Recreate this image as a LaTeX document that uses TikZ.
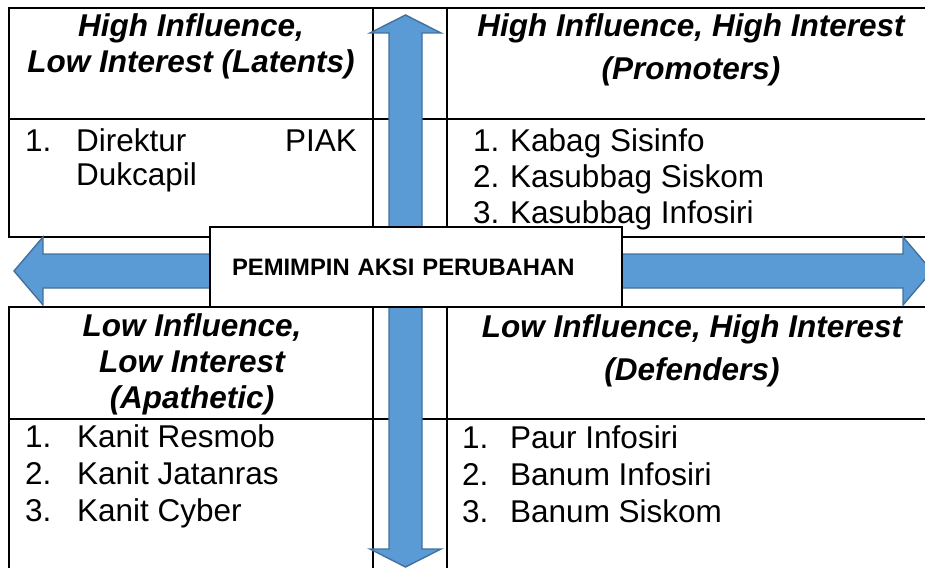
\documentclass[tikz,border=0pt]{standalone}
\usepackage{fontspec}
\setmainfont{Liberation Sans}
\usetikzlibrary{positioning}
\definecolor{arrowcol}{RGB}{91,155,213}
\definecolor{arrowline}{RGB}{65,113,156}

\tikzset{
  tabline/.style={line width=1.6pt},
  bigarrow/.style={fill=arrowcol,draw=arrowline,line width=1.4pt,line join=miter},
  quadhead/.style={font=\fontsize{31.5}{36}\selectfont\bfseries\itshape,align=center,anchor=base,inner sep=0pt},
  entry/.style={font=\fontsize{31.5}{37}\selectfont,anchor=base west,inner sep=0pt},
}

\begin{document}
\begin{tikzpicture}[x=1pt,y=-1pt]
\useasboundingbox (0,0) rectangle (925,567);
\clip (0,0) rectangle (925,567);
% the two rows of the table
\draw[tabline] (9,8) rectangle (940,237);
\draw[tabline] (9,307) rectangle (940,600);
\foreach \y in {119,419} \draw[tabline] (9,\y) -- (940,\y);
\foreach \x in {373,447} {
  \draw[tabline] (\x,8) -- (\x,237);
  \draw[tabline] (\x,307) -- (\x,600);
}
% axes
\draw[bigarrow] (405.5,15) -- (441,33) -- (422,33) -- (422,549) -- (441,549) -- (405.5,567)
  -- (370,549) -- (389,549) -- (389,33) -- (370,33) -- cycle;
\draw[bigarrow] (14,271) -- (43,237) -- (43,254) -- (903,254) -- (903,237) -- (932,271)
  -- (903,305) -- (903,288) -- (43,288) -- (43,305) -- cycle;
\node[draw,line width=1.6pt,fill=white,minimum height=80pt,text width=368pt,inner xsep=22pt,align=left,
  font=\fontsize{23.8}{28}\selectfont\bfseries] (lead) at (416,267) {PEMIMPIN AKSI PERUBAHAN};

% quadrant titles (placed by the baseline of their last line)
\node[quadhead] (hilo) at (191,73) {High Influence,\\Low Interest (Latents)};
\node[quadhead] (hihi) at (691,80) {High Influence, High Interest\\[7pt](Promoters)};
\node[quadhead] (lolo) at (192,408) {Low Influence,\\Low Interest\\(Apathetic)};
\node[quadhead] (lohi) at (692,380) {Low Influence, High Interest\\[7pt](Defenders)};

% members
\node[entry] (hilon1) at (25,151) {1.};
\node[entry] (hilo1) at (76,151) {Direktur};
\node[entry,anchor=base east] (hilo1b) at (357,151) {PIAK};
\node[entry] (hilo1c) at (76,185) {Dukcapil};
\foreach \t [count=\i] in {Kabag Sisinfo,Kasubbag Siskom,Kasubbag Infosiri} {
  \node[entry] (hihin\i) at (473,{151+36*(\i-1)}) {\i.};
  \node[entry] (hihi\i) at (510,{151+36*(\i-1)}) {\t};
}
\foreach \t [count=\i] in {Kanit Resmob,Kanit Jatanras,Kanit Cyber} {
  \node[entry] (lolon\i) at (25,{447+37*(\i-1)}) {\i.};
  \node[entry] (lolo\i) at (77,{447+37*(\i-1)}) {\t};
}
\foreach \t [count=\i] in {Paur Infosiri,Banum Infosiri,Banum Siskom} {
  \node[entry] (lohin\i) at (462,{448+37*(\i-1)}) {\i.};
  \node[entry] (lohi\i) at (510,{448+37*(\i-1)}) {\t};
}
\end{tikzpicture}
\end{document}
